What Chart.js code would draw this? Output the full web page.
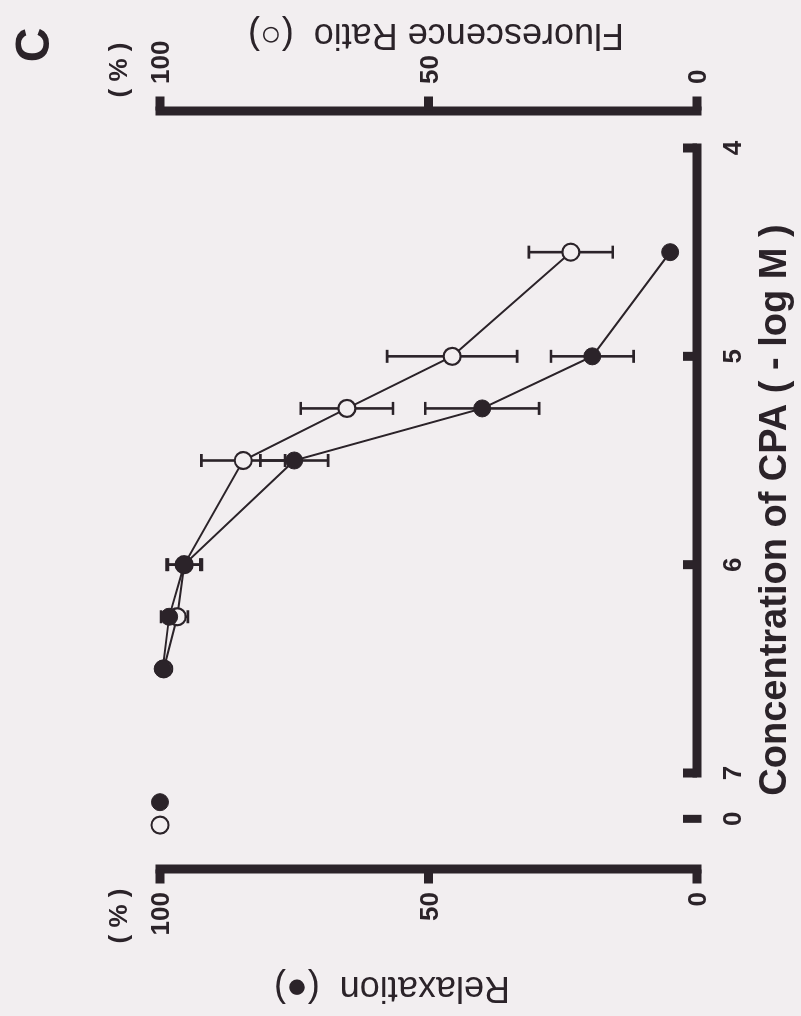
<!DOCTYPE html>
<html>
<head>
<meta charset="utf-8">
<script src="https://cdn.jsdelivr.net/npm/chart.js@4.4.1/dist/chart.umd.min.js"></script>
<style>
  html, body { margin: 0; padding: 0; width: 801px; height: 1016px; overflow: hidden; background: #f2eef0; }
  /* the figure was scanned sideways, so the whole chart is turned a quarter turn */
  #wrap { position: absolute; left: 0; top: 0; width: 1016px; height: 801px;
          transform-origin: 0 0; transform: translate(0px, 1016px) rotate(-90deg); }
</style>
</head>
<body>
<div id="wrap"><canvas id="chart" width="1016" height="801"></canvas></div>
<script>
// concentration of CPA (-log M)
const conc = [6.5, 6.25, 6, 5.5, 5.25, 5, 4.5];
// relaxation (filled circles), %
const relaxation = [99.5, 98.3, 95.5, 75, 40, 19.5, 5];
const relaxationErr = [0, 1.5, 3.3, 6.3, 10.6, 7.7, 0];
// fluorescence ratio (open circles), %
const fluorescence = [99.3, 96.8, 95.5, 84.5, 65.2, 45.6, 23.5];
const fluorescenceErr = [0, 2, 3, 7.8, 8.6, 12.1, 7.8];
// control (no CPA), drawn on the broken-off part of the axis
const controlTick = 7.22;
const controlRelaxation = [7.14, 100];
const controlFluorescence = [7.25, 100];
// ticks
const xTicks = [4, 5, 6, 7];
const yTicks = [0, 50, 100];

const ink = '#2b2329';
const paper = '#f2eef0';
const tickFont = 'bold 26px "Liberation Sans", Arial, sans-serif';

function toPoints(xs, ys) {
    return xs.map((x, i) => ({ x: x, y: ys[i] }));
}

// Error bars, drawn under the markers
const errorBars = {
    id: 'errorBars',
    beforeDatasetsDraw(chart) {
        const ctx = chart.ctx;
        const xs = chart.scales.x;
        ctx.save();
        ctx.strokeStyle = ink;
        ctx.lineWidth = 2.6;
        chart.data.datasets.forEach(ds => {
            if (!ds.errors) return;
            const ys = chart.scales[ds.yAxisID];
            ds.data.forEach((p, i) => {
                const e = ds.errors[i];
                if (!e) return;
                const px = xs.getPixelForValue(p.x);
                const top = ys.getPixelForValue(p.y + e);
                const bot = ys.getPixelForValue(p.y - e);
                ctx.beginPath();
                ctx.moveTo(px, top); ctx.lineTo(px, bot);
                ctx.moveTo(px - 6.5, top); ctx.lineTo(px + 6.5, top);
                ctx.moveTo(px - 6.5, bot); ctx.lineTo(px + 6.5, bot);
                ctx.stroke();
            });
        });
        ctx.restore();
    }
};

// Thick detached axes, ticks, labels and titles
const axes = {
    id: 'axes',
    beforeDatasetsDraw(chart) {
        const ctx = chart.ctx;
        const x = chart.scales.x, yL = chart.scales.y, yR = chart.scales.y2;
        const lw = 9, tl = 14;
        ctx.save();
        ctx.fillStyle = ink;

        // x axis, 7 to 4
        const y0 = yL.getPixelForValue(0);
        const xa = x.getPixelForValue(7), xb = x.getPixelForValue(4);
        ctx.fillRect(xa - lw / 2, y0 - lw / 2, xb - xa + lw, lw);
        xTicks.forEach(v => {
            const px = x.getPixelForValue(v);
            ctx.fillRect(px - lw / 2, y0 - tl, lw, tl);
        });
        const pc = x.getPixelForValue(controlTick);
        ctx.fillRect(pc - 4, y0 - tl, 8, tl + lw / 2);

        // left (relaxation) and right (fluorescence) axes
        const leftX = 147, rightX = 905;
        const t100 = yL.getPixelForValue(100), t0 = yL.getPixelForValue(0);
        ctx.fillRect(leftX - lw / 2, t100 - lw / 2, lw, t0 - t100 + lw);
        ctx.fillRect(rightX - lw / 2, t100 - lw / 2, lw, t0 - t100 + lw);
        yTicks.forEach(v => {
            const pl = yL.getPixelForValue(v), pr = yR.getPixelForValue(v);
            ctx.fillRect(leftX - lw / 2 - tl + 4, pl - lw / 2, tl, lw);
            ctx.fillRect(rightX + lw / 2 - 4, pr - lw / 2, tl, lw);
        });

        // tick labels
        ctx.font = tickFont;
        ctx.textBaseline = 'alphabetic';
        ctx.textAlign = 'center';
        xTicks.forEach(v => ctx.fillText(String(v), x.getPixelForValue(v), 741));
        ctx.fillText('0', pc, 741);

        ctx.textAlign = 'right';
        yTicks.forEach(v => ctx.fillText(String(v), 124, yL.getPixelForValue(v) + 9));
        ctx.textAlign = 'left';
        yTicks.forEach(v => ctx.fillText(String(v), 932, yR.getPixelForValue(v) + 9));

        ctx.textAlign = 'center';
        ctx.textBaseline = 'middle';
        ctx.fillText('( % )', 100, 120);
        ctx.fillText('( % )', 946, 120);

        // axis titles
        ctx.font = 'bold 38px "Liberation Sans", Arial, sans-serif';
        ctx.fillText('Concentration of CPA ( - log M )', 506, 776);

        ctx.font = '36px "Liberation Sans", Arial, sans-serif';
        ctx.save();
        ctx.translate(29, 392);
        ctx.rotate(-Math.PI / 2);
        ctx.fillText('Relaxation  (\u25CF)', 0, 0);
        ctx.restore();
        ctx.save();
        ctx.translate(982, 436);
        ctx.rotate(-Math.PI / 2);
        ctx.fillText('Fluorescence Ratio  (\u25CB)', 0, 0);
        ctx.restore();

        // panel letter
        ctx.font = 'bold 48px "Liberation Sans", Arial, sans-serif';
        ctx.fillText('C', 971, 36);
        ctx.restore();
    }
};

const markerFilled = { pointRadius: 8.5, pointBackgroundColor: ink, pointBorderColor: ink, pointBorderWidth: 1 };
const markerOpen = { pointRadius: 8.5, pointBackgroundColor: paper, pointBorderColor: ink, pointBorderWidth: 2.2 };

new Chart(document.getElementById('chart'), {
    type: 'scatter',
    data: {
        datasets: [
            Object.assign({
                label: 'Relaxation',
                data: toPoints(conc, relaxation),
                errors: relaxationErr,
                yAxisID: 'y',
                showLine: true,
                borderColor: ink,
                borderWidth: 2
            }, markerFilled),
            Object.assign({
                label: 'Relaxation control',
                data: [{ x: controlRelaxation[0], y: controlRelaxation[1] }],
                yAxisID: 'y'
            }, markerFilled),
            Object.assign({
                label: 'Fluorescence ratio',
                data: toPoints(conc, fluorescence),
                errors: fluorescenceErr,
                yAxisID: 'y2',
                showLine: true,
                borderColor: ink,
                borderWidth: 2
            }, markerOpen),
            Object.assign({
                label: 'Fluorescence control',
                data: [{ x: controlFluorescence[0], y: controlFluorescence[1] }],
                yAxisID: 'y2'
            }, markerOpen)
        ]
    },
    options: {
        responsive: false,
        animation: false,
        devicePixelRatio: 1,
        layout: { padding: { left: 138.83, right: 106.33, top: 106.3, bottom: 77.15 } },
        plugins: { legend: { display: false }, tooltip: { enabled: false } },
        scales: {
            x: { type: 'linear', reverse: true, min: 3.8, max: 7.5, display: false },
            y: { min: -5, max: 110, display: false },
            y2: { min: -5, max: 110, display: false }
        }
    },
    plugins: [axes, errorBars]
});
</script>
</body>
</html>
